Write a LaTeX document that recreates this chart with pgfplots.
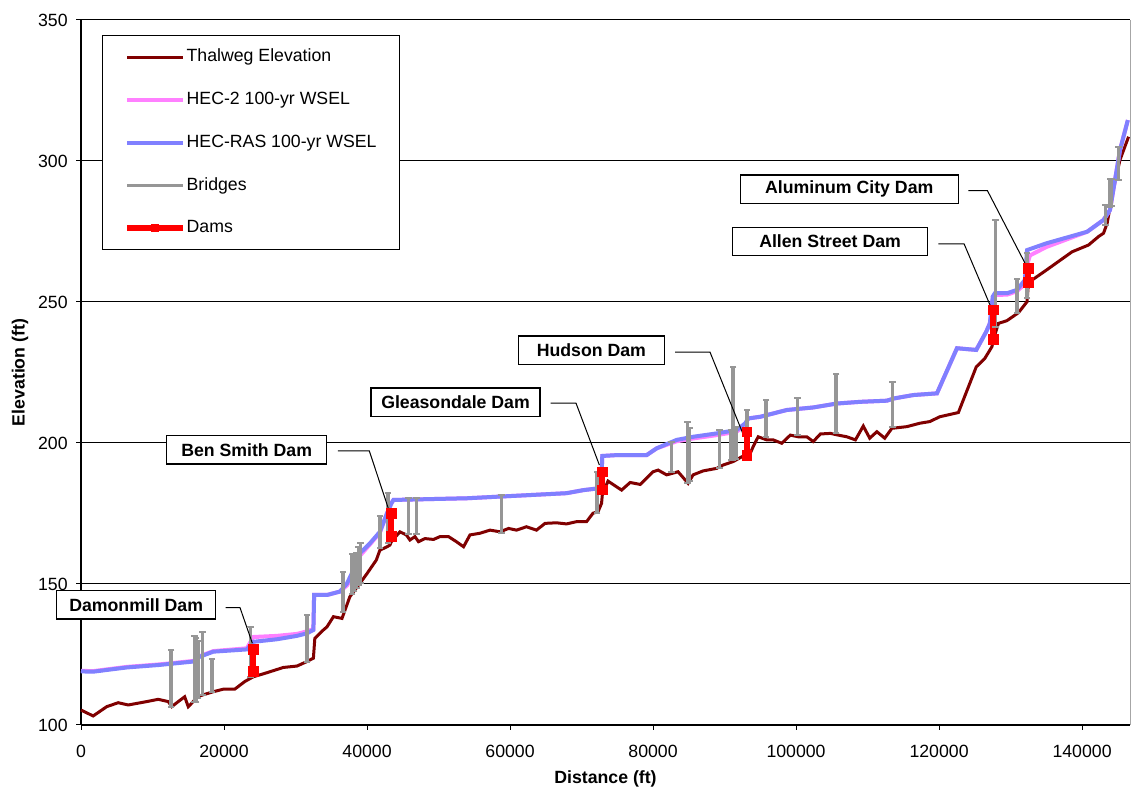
\documentclass[border=0pt]{standalone}
\usepackage{fontspec}
\setmainfont{Liberation Sans}
\usepackage{pgfplots}
\pgfplotsset{compat=1.18}
\definecolor{thal}{HTML}{800000}
\definecolor{hectwo}{HTML}{FF80FF}
\definecolor{hecras}{HTML}{8080FF}
\definecolor{brg}{HTML}{969696}
\definecolor{dam}{HTML}{FF0000}
\begin{document}
\begin{tikzpicture}[font=\fontsize{8.85}{10}\selectfont]
\begin{axis}[
  scale only axis, width=524.5pt, height=352.5pt,
  xmin=0, xmax=146700, ymin=100, ymax=350,
  xtick={0,20000,40000,60000,80000,100000,120000,140000},
  xticklabels={0,20000,40000,60000,80000,100000,120000,140000},
  ytick={100,150,200,250,300,350},
  yticklabels={100,150,200,250,300,350},
  scaled x ticks=false,
  axis x line*=bottom, axis y line*=left,
  axis line style={black, line width=0.6pt},
  ymajorgrids, grid style={black, line width=0.5pt},
  tick align=outside, major tick length=2.5pt,
  tick style={black, line width=0.5pt},
  xticklabel style={anchor=north, inner sep=0pt, yshift=-7.5pt},
  yticklabel style={anchor=east, inner sep=0pt, xshift=-4pt},
  xlabel={\bfseries Distance (ft)}, ylabel={\bfseries Elevation (ft)},
  xlabel style={at={(axis description cs:0.5,-0.0766)}, anchor=center},
  ylabel style={at={(axis description cs:-0.0582,0.5)}, anchor=center},
  clip=false,
  legend image code/.code={\draw[mark repeat=2,mark phase=2,#1] plot coordinates {(0pt,0pt) (14pt,0pt) (28pt,0pt)};},
  legend cell align=left,
  legend style={at={(axis description cs:0.02,0.9787)}, anchor=north west,
    draw=black, line width=0.5pt, fill=white,
    inner xsep=11pt, inner ysep=6.2pt, row sep=12.05pt,
    nodes={inner sep=0.5pt, text height=6.5pt, text depth=1.8pt, anchor=west}},
]
\addlegendimage{thal, line width=1.5pt}
\addlegendentry{Thalweg Elevation}
\addlegendimage{hectwo, line width=2pt}
\addlegendentry{HEC-2 100-yr WSEL}
\addlegendimage{hecras, line width=2pt}
\addlegendentry{HEC-RAS 100-yr WSEL}
\addlegendimage{brg, line width=1.8pt}
\addlegendentry{Bridges}
\addlegendimage{dam, line width=2.6pt, mark=square*, mark size=1.9pt, mark options={solid, line width=0.4pt}}
\addlegendentry{Dams}

% Thalweg
\addplot[thal, line width=1.5pt, forget plot] coordinates {
(0,105.3) (1700,103.2) (3600,106.5) (5200,107.9) (6600,107.1) (9200,108.3)
(10800,109.1) (12200,108.3) (12700,106.5) (13600,108.3) (14500,110.0) (15000,106.5)
(15700,108.3) (16200,110.0) (18500,111.8) (19900,112.7) (21500,112.7) (22900,115.4)
(24100,117.1) (25700,118.3) (28300,120.4) (30200,120.9) (31600,122.5) (32500,123.7)
(32700,130.7) (33900,133.7) (34400,134.8) (35300,138.4) (36500,137.8) (37600,145.5)
(39000,150.2) (40000,153.7) (41300,158.5) (41800,162.0) (42800,163.2) (43200,163.8)
(43400,165.0) (44600,168.5) (45500,167.4) (46000,165.6) (46700,166.8) (47200,165.0)
(48100,166.1) (49300,165.8) (50200,166.8) (51400,166.8) (52500,165.0) (53500,163.2)
(54400,167.4) (55800,168.0) (57200,169.1) (58600,168.5) (59800,169.7) (60900,169.1)
(62300,170.3) (63700,169.1) (64900,171.5) (66500,171.7) (67900,171.3) (69300,172.1)
(70700,172.1) (71600,175.1) (72300,175.6) (72800,178.6) (72900,181.5) (73700,186.5)
(74400,185.3) (75600,183.3) (76800,186.0) (78200,185.3) (79100,187.5) (80000,189.8)
(80700,190.4) (81900,188.7) (83500,189.8) (84900,185.7) (85600,188.7) (87000,190.1)
(88900,191.0) (89800,192.2) (91200,193.4) (92400,195.1) (93300,194.6) (94000,198.7)
(94700,202.2) (95900,201.1) (96800,201.1) (98000,199.9) (99200,202.8) (100300,202.2)
(101500,202.2) (102400,200.5) (103400,203.2) (104800,203.4) (105900,202.8) (107100,202.2)
(108300,201.1) (109400,206.0) (110300,201.7) (111300,204.0) (112400,201.7) (113400,205.2)
(115500,205.8) (117300,207.0) (118700,207.6) (120100,209.3) (122700,210.8) (125200,227.0)
(126400,230.0) (127400,234.2) (127600,236.8) (128300,242.4) (129500,243.4) (131100,246.2)
(132300,250.1) (132500,256.9) (135000,261.3) (138600,267.8) (140900,270.2) (142300,273.2)
(143000,274.4) (143500,277.9) (144400,290.3) (145300,300.4) (146500,308.6)
};

% HEC-2
\addplot[hectwo, line width=2pt, forget plot] coordinates {
(0,119.2) (1700,119.1) (6400,120.6) (11000,121.5) (15700,122.7) (16600,124.4)
(18500,126.2) (23200,127.2) (24100,131.2) (27400,131.6) (30200,132.3) (31600,133.2)
(32500,134.0) (32600,146.1) (34400,146.1) (36200,147.3) (37200,149.5) (38100,153.5)
(39000,160.0) (40400,164.0) (41800,168.2) (42800,175.1) (43400,178.6) (43700,179.8)
(47000,180.0) (54000,180.4) (58600,181.0) (63300,181.6) (67900,182.2) (70300,183.3)
(72300,183.9) (72800,188.1) (72900,195.4) (74900,195.7) (79100,195.7) (80500,198.1)
(83300,200.6) (85600,201.6) (88900,202.8) (91700,204.0) (92900,206.5) (93300,208.7)
(95000,209.3) (98700,211.7) (102400,212.6) (105700,214.0) (109000,214.6) (112700,215.0)
(113700,215.8) (116400,217.0) (119700,217.6) (122500,233.6) (125200,233.0) (126600,239.5)
(127100,242.4) (127500,250.5) (127800,252.5) (129500,252.6) (130900,253.8) (132000,256.5)
(132300,263.0) (132700,266.5) (135000,269.5) (140700,274.9) (143000,279.1) (143900,282.6)
(145300,303.9) (146400,314.5)
};

% HEC-RAS
\addplot[hecras, line width=2pt, forget plot] coordinates {
(0,119.0) (1700,118.9) (6400,120.4) (11000,121.3) (15700,122.5) (16600,124.2)
(18500,126.0) (23200,126.8) (24100,129.5) (27400,130.4) (30200,131.6) (31600,132.5)
(32500,133.7) (32600,146.1) (34400,146.1) (36200,147.3) (37200,150.2) (38100,155.0)
(39000,160.9) (40400,164.4) (41800,168.5) (42800,175.1) (43400,178.6) (43700,179.8)
(47000,180.0) (54000,180.4) (58600,181.0) (63300,181.6) (67900,182.2) (70300,183.3)
(72300,183.9) (72800,188.1) (72900,195.4) (74900,195.7) (79100,195.7) (80500,198.1)
(83300,201.1) (85600,202.2) (88900,203.4) (91700,204.6) (92900,207.0) (93300,208.7)
(95000,209.3) (98700,211.7) (102400,212.6) (105700,214.0) (109000,214.6) (112700,215.0)
(113700,215.8) (116400,217.0) (119700,217.6) (122500,233.6) (125200,233.0) (126600,239.5)
(127100,242.4) (127500,251.9) (127800,253.1) (129500,253.1) (130900,254.3) (132000,257.8)
(132300,268.4) (135000,270.8) (140700,274.9) (143000,279.1) (143900,282.6) (145300,303.9)
(146400,314.5)
};

% Bridges
\addplot[brg, line width=1.8pt, mark=-, mark size=1.6pt, mark options={line width=1pt}, unbounded coords=jump, forget plot] coordinates {
(12600,106.5) (12600,126.6) (12600,nan)
(15900,108.3) (15900,131.7) (15900,nan)
(16100,108.3) (16100,131.0) (16100,nan)
(16400,109.5) (16400,129.9) (16400,nan)
(17000,110.6) (17000,133.1) (17000,nan)
(18300,111.8) (18300,123.4) (18300,nan)
(23700,117.1) (23700,134.9) (23700,nan)
(31600,122.5) (31600,139.0) (31600,nan)
(36600,140.2) (36600,154.4) (36600,nan)
(37900,146.5) (37900,160.6) (37900,nan)
(38200,147.5) (38200,160.6) (38200,nan)
(38500,148.5) (38500,161.0) (38500,nan)
(38800,149.5) (38800,163.0) (38800,nan)
(39100,150.5) (39100,164.4) (39100,nan)
(41800,162.7) (41800,174.1) (41800,nan)
(42900,164.4) (42900,182.2) (42900,nan)
(45800,167.7) (45800,180.4) (45800,nan)
(46900,167.7) (46900,180.4) (46900,nan)
(58800,168.0) (58800,181.6) (58800,nan)
(72200,175.1) (72200,189.8) (72200,nan)
(82600,189.8) (82600,200.5) (82600,nan)
(84800,185.7) (84800,207.6) (84800,nan)
(85100,186.5) (85100,205.2) (85100,nan)
(89300,191.0) (89300,204.6) (89300,nan)
(90900,194.0) (90900,204.6) (90900,nan)
(91200,194.0) (91200,227.0) (91200,nan)
(91600,194.5) (91600,205.8) (91600,nan)
(93100,195.1) (93100,211.7) (93100,nan)
(95800,202.2) (95800,215.4) (95800,nan)
(100200,202.8) (100200,215.8) (100200,nan)
(105600,203.4) (105600,224.4) (105600,nan)
(113500,205.6) (113500,221.8) (113500,nan)
(127900,241.2) (127900,279.1) (127900,nan)
(130900,246.0) (130900,258.0) (130900,nan)
(132300,251.3) (132300,267.5) (132300,nan)
(143300,277.3) (143300,284.4) (143300,nan)
(143900,283.6) (143900,293.5) (143900,nan)
(144100,284.0) (144100,293.5) (144100,nan)
(145100,293.3) (145100,304.8)
};

% Dams
\addplot[dam, line width=3pt, mark=square*, mark size=2.4pt, mark options={solid, line width=0.4pt}, unbounded coords=jump, forget plot] coordinates {
(24100,118.9) (24100,126.8) (24100,nan)
(43400,166.8) (43400,175.1) (43400,nan)
(72900,183.3) (72900,189.8) (72900,nan)
(93100,195.7) (93100,204.0) (93100,nan)
(127600,236.8) (127600,247.2) (127600,nan)
(132500,256.9) (132500,262.0)
};

% right border
\draw[black!35, line width=0.5pt] (rel axis cs:1,0) -- (rel axis cs:1,1);

% Callouts
\tikzset{callout/.style={draw=black, line width=0.6pt, fill=white, font=\fontsize{8.85}{10}\selectfont\bfseries, minimum height=14.2pt, inner sep=0pt, anchor=center}}
\draw[black, line width=0.5pt] (axis cs:20240,141.6) -- (axis cs:22240,141.6) -- (axis cs:23960,129.0);
\node[callout, minimum width=79.5pt] at (axis cs:7720,142.6) {Damonmill Dam};
\draw[black, line width=0.5pt] (axis cs:35940,197.2) -- (axis cs:40320,197.2) -- (axis cs:42980,176.8);
\node[callout, minimum width=80pt] at (axis cs:23170,197.6) {Ben Smith Dam};
\draw[black, line width=0.5pt] (axis cs:65690,214.1) -- (axis cs:69230,214.1) -- (axis cs:72490,192.2);
\node[callout, minimum width=84.5pt] at (axis cs:52380,214.5) {Gleasondale Dam};
\draw[black, line width=0.5pt] (axis cs:83080,232.2) -- (axis cs:87970,232.2) -- (axis cs:92550,203.4);
\node[callout, minimum width=73pt] at (axis cs:71370,232.9) {Hudson Dam};
\draw[black, line width=0.5pt] (axis cs:119900,270.6) -- (axis cs:123500,270.6) -- (axis cs:127130,248.9);
\node[callout, minimum width=97.3pt] at (axis cs:104760,271.4) {Allen Street Dam};
\draw[black, line width=0.5pt] (axis cs:124100,289.5) -- (axis cs:126760,289.5) -- (axis cs:132030,263.7);
\node[callout, minimum width=109pt] at (axis cs:107440,290.0) {Aluminum City Dam};
\end{axis}
\pgfresetboundingbox
\path[use as bounding box] ([xshift=-40.5pt,yshift=-33pt]current axis.south west) rectangle ([xshift=0.5pt,yshift=10pt]current axis.north east);
\end{tikzpicture}
\end{document}
